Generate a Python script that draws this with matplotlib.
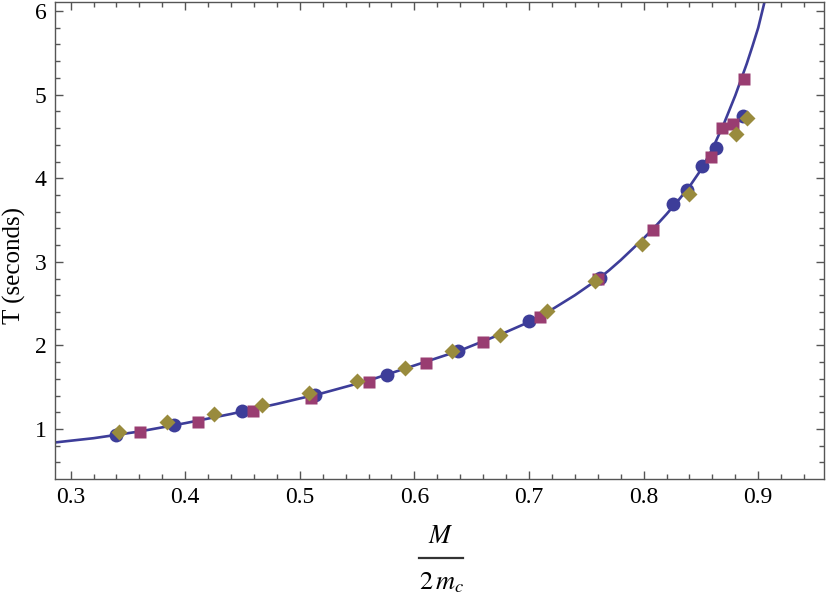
import numpy as np
import matplotlib.pyplot as plt
from matplotlib.lines import Line2D
from matplotlib.ticker import MultipleLocator, FormatStrFormatter

plt.rcParams['font.family'] = 'Liberation Serif'
plt.rcParams['mathtext.fontset'] = 'stix'

# measured periods, three runs
circle_x = [0.340, 0.390, 0.450, 0.513, 0.576, 0.638, 0.700, 0.762, 0.826, 0.838, 0.851, 0.863, 0.887]
circle_t = [0.93, 1.05, 1.22, 1.41, 1.65, 1.93, 2.29, 2.81, 3.69, 3.86, 4.15, 4.36, 4.74]

square_x = [0.361, 0.411, 0.459, 0.510, 0.560, 0.610, 0.660, 0.710, 0.760, 0.808, 0.859, 0.868, 0.878, 0.888]
square_t = [0.96, 1.08, 1.22, 1.37, 1.56, 1.79, 2.04, 2.34, 2.79, 3.38, 4.25, 4.60, 4.65, 5.19]

diamond_x = [0.342, 0.384, 0.425, 0.467, 0.508, 0.550, 0.592, 0.633, 0.675, 0.716, 0.758, 0.799, 0.840, 0.881, 0.890]
diamond_t = [0.97, 1.08, 1.18, 1.29, 1.43, 1.57, 1.73, 1.93, 2.12, 2.41, 2.77, 3.21, 3.81, 4.53, 4.72]

# theory curve
curve_x = [0.287, 0.32, 0.36, 0.40, 0.44, 0.48, 0.52, 0.56, 0.60, 0.64, 0.68, 0.70, 0.72,
           0.74, 0.76, 0.77, 0.78, 0.79, 0.80, 0.81, 0.82, 0.83, 0.84, 0.85, 0.86, 0.87,
           0.88, 0.89, 0.895, 0.90, 0.905, 0.91]
curve_t = [0.84, 0.89, 0.97, 1.07, 1.18, 1.30, 1.43, 1.58, 1.76, 1.94, 2.16, 2.28, 2.43,
           2.60, 2.79, 2.90, 3.02, 3.15, 3.28, 3.42, 3.57, 3.73, 3.90, 4.10, 4.35, 4.65,
           4.99, 5.37, 5.58, 5.80, 6.08, 6.40]

blue = '#3d3d99'
magenta = '#993d71'
olive = '#998b3d'
frame = '#555555'

W, H = 830, 598
fig = plt.figure(figsize=(W / 100, H / 100), dpi=100)
ax = fig.add_axes([55 / W, 1 - 479 / H, (824 - 55) / W, (479 - 2) / H])

ax.plot(curve_x, curve_t, color=blue, lw=1.9, zorder=2)
ax.plot(circle_x, circle_t, 'o', color=blue, ms=10, mec='none', zorder=3)
ax.plot(square_x, square_t, 's', color=magenta, ms=9, mec='none', zorder=4)
ax.plot(diamond_x, diamond_t, 'D', color=olive, ms=8.6, mec='none', zorder=5)

ax.set_xlim(0.2864, 0.9574)
ax.set_ylim(0.402, 6.108)

ax.set_xticks(np.arange(0.3, 0.91, 0.1))
ax.set_yticks(np.arange(1, 7, 1))
ax.xaxis.set_minor_locator(MultipleLocator(0.02))
ax.yaxis.set_minor_locator(MultipleLocator(0.2))
ax.xaxis.set_major_formatter(FormatStrFormatter('%.1f'))
ax.yaxis.set_major_formatter(FormatStrFormatter('%d'))

ax.tick_params(which='both', direction='in', top=True, right=True, color=frame, width=1,
               labelsize=17, labelcolor='black')
ax.tick_params(which='major', length=6)
ax.tick_params(which='minor', length=3.3)
ax.tick_params(axis='x', pad=6)
ax.tick_params(axis='y', pad=6)
for s in ax.spines.values():
    s.set_color(frame)
    s.set_linewidth(1)

fig.text(14 / W, 1 - 266 / H, 'T (seconds)', rotation=90, fontsize=18,
         ha='center', va='center')

# x label drawn as a stacked fraction
fig.text(441 / W, 1 - 537 / H, r'$M$', fontsize=19, ha='center', va='center')
fig.add_artist(Line2D([419 / W, 463 / W], [1 - 558 / H, 1 - 558 / H],
                      transform=fig.transFigure, color='#333333', lw=1.6))
fig.text(442 / W, 1 - 583 / H, r'$2\,m_c$', fontsize=19, ha='center', va='center')

fig.savefig('out.png', dpi=100)
